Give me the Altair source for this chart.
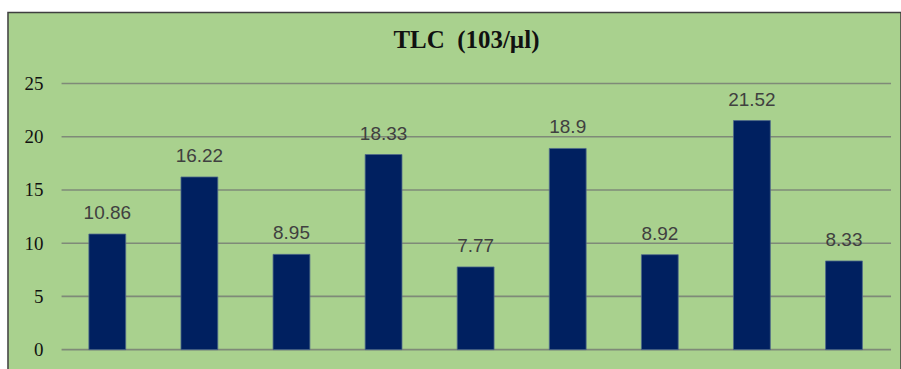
import altair as alt
import pandas as pd

# Nine TLC readings (10^3/µl), one bar each
samples = ["1", "2", "3", "4", "5", "6", "7", "8", "9"]
tlc_values = [10.86, 16.22, 8.95, 18.33, 7.77, 18.9, 8.92, 21.52, 8.33]
value_labels = ["10.86", "16.22", "8.95", "18.33", "7.77", "18.9", "8.92", "21.52", "8.33"]
y_ticks = [0, 5, 10, 15, 20, 25]

bars_df = pd.DataFrame({"sample": samples, "tlc": tlc_values, "label": value_labels})
grid_df = pd.DataFrame({"tick": y_ticks})

VIEW_W = 895
VIEW_H = 359

y_scale = alt.Scale(domain=[-1.969, 31.684], nice=False, zero=False)
x_scale = alt.Scale(range=[53.4, 884.0], paddingInner=0.6, paddingOuter=0.3)

grid = alt.Chart(grid_df).mark_rule(color="#7f8a78", strokeWidth=1.6).encode(
    y=alt.Y("tick:Q", scale=y_scale,
            axis=alt.Axis(values=y_ticks, grid=False, ticks=False, domain=False,
                          offset=-35, labelPadding=0, labelFont="Liberation Serif",
                          labelFontSize=19, labelColor="#111111", title=None)),
    x=alt.value(53.7),
    x2=alt.value(885),
)

bars = alt.Chart(bars_df).mark_bar(color="#002060", stroke="#4f6a8a", strokeWidth=0.8).encode(
    x=alt.X("sample:N", scale=x_scale, axis=None, sort=samples),
    y=alt.Y("tlc:Q", scale=y_scale),
    y2=alt.datum(0),
)

labels = alt.Chart(bars_df).mark_text(
    font="Liberation Sans", fontSize=19, color="#404040",
    baseline="alphabetic", align="center", dy=-15,
).encode(
    x=alt.X("sample:N", scale=x_scale, axis=None, sort=samples),
    y=alt.Y("tlc:Q", scale=y_scale),
    text="label:N",
)

chart = alt.layer(grid, bars, labels).properties(
    width=VIEW_W,
    height=VIEW_H,
    padding={"left": 8, "top": 12, "right": 0, "bottom": 0},
    autosize=alt.AutoSizeParams(type="none"),
    background="#ffffff",
    title=alt.TitleParams(
        text="TLC\u00a0 (103/µl)", font="Liberation Serif", fontSize=25,
        fontWeight="bold", color="#111111", anchor="middle",
        baseline="alphabetic", dy=65, dx=12,
    ),
).configure_view(
    fill="#a9d18e", stroke="#3f3f3f", strokeWidth=1.5,
)

chart.save("out.html", embed_options={"renderer": "svg", "actions": False})
